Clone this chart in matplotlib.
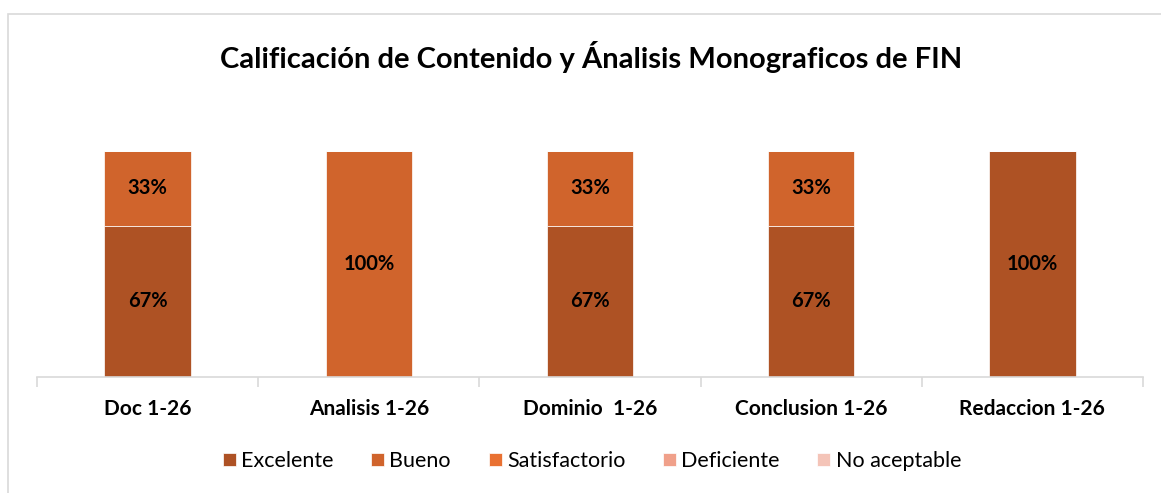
import matplotlib
matplotlib.use("Agg")
import matplotlib.pyplot as plt
from matplotlib.patches import Rectangle
import numpy as np

categories = ["Doc 1-26", "Analisis 1-26", "Dominio  1-26", "Conclusion 1-26", "Redaccion 1-26"]
series_names = ["Excelente", "Bueno", "Satisfactorio", "Deficiente", "No aceptable"]
excelente = [0.67, 0.0, 0.67, 0.67, 1.00]
bueno = [0.33, 1.00, 0.33, 0.33, 0.0]
satisfactorio = [0.0, 0.0, 0.0, 0.0, 0.0]
deficiente = [0.0, 0.0, 0.0, 0.0, 0.0]
no_aceptable = [0.0, 0.0, 0.0, 0.0, 0.0]
colors = ["#AE5224", "#D0642C", "#E97132", "#F0A08A", "#F4C4B8"]

plt.rcParams['font.family'] = ['Lato', 'DejaVu Sans']

W, H = 1161, 493
fig = plt.figure(figsize=(W/100, H/100), dpi=100)
fig.patches.append(Rectangle((8/W, -0.1), 2.0, (H-14)/H + 0.1, transform=fig.transFigure,
                             fill=False, edgecolor="#D9D9D9", linewidth=1.2))

ax = fig.add_axes([37/W, 1-377/H, (1143-37)/W, (377-151)/H])
x = np.arange(len(categories))
data = [excelente, bueno, satisfactorio, deficiente, no_aceptable]
bottom = np.zeros(len(categories))
for name, vals, c in zip(series_names, data, colors):
    vals = np.array(vals)
    ax.bar(x, vals, 0.39, bottom=bottom, color=c, label=name, edgecolor="white", linewidth=0.5)
    for xi, v, b in zip(x, vals, bottom):
        if v > 0:
            ax.text(xi, b + v/2, f"{round(v*100)}%", ha="center", va="center",
                    fontsize=14.5, fontweight="bold", color="black")
    bottom += vals

ax.set_xlim(-0.5, len(categories)-0.5)
ax.set_ylim(0, 1)
for s in ["top", "right", "left"]:
    ax.spines[s].set_visible(False)
ax.spines["bottom"].set_color("#D9D9D9")
ax.spines["bottom"].set_linewidth(1.2)
ax.set_yticks([])
ax.set_xticks(np.arange(-0.5, len(categories)), minor=False)
ax.set_xticklabels([])
ax.tick_params(axis="x", length=7, color="#D9D9D9", width=1.2)
for xi, cat in zip(x, categories):
    ax.text(xi, -0.14, cat, ha="center", va="center", fontsize=15, fontweight="bold",
            transform=ax.transData)

fig.text(591/W, 1-57/H, "Calificación de Contenido y Ánalisis Monograficos de FIN",
         ha="center", va="center", fontsize=21, fontweight="bold")

handles, labels = ax.get_legend_handles_labels()
fig.legend(handles, labels, loc="center", bbox_to_anchor=(592/W, 1-461/H), ncol=5,
           frameon=False, fontsize=15.5, handlelength=0.6, handleheight=0.6,
           handletextpad=0.25, columnspacing=1.75)

fig.savefig("out.png", dpi=100)
